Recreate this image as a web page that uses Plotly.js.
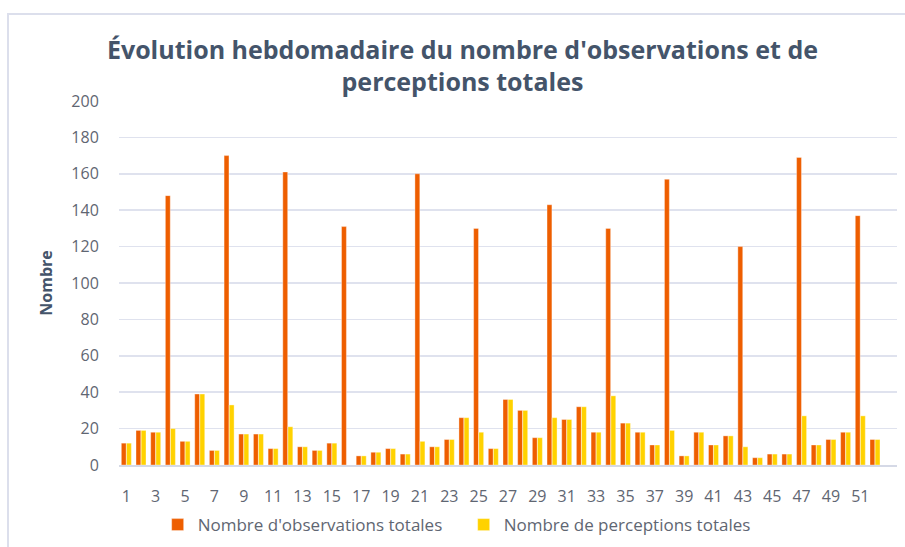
<!DOCTYPE html>
<html>
<head>
<meta charset="utf-8">
<script src="https://cdn.plot.ly/plotly-3.0.1.min.js"></script>
<style>
  html, body { margin: 0; padding: 0; background: #ffffff; overflow: hidden; }
  #frame { position: absolute; left: 7px; top: 13px; width: 1000px; height: 1000px;
           border-left: 2px solid #DCDFEC; border-top: 2px solid #DCDFEC; z-index: 0; }
  #chart { position: absolute; left: 0; top: 0; width: 905px; height: 547px; z-index: 1; }
</style>
</head>
<body>
<div id="frame"></div>
<div id="chart"></div>
<script>
const weeks = Array.from({length: 52}, (_, i) => i + 1);
const observations = [12,19,18,148,13,39,8,170,17,17,9,161,10,8,12,131,5,7,9,6,160,10,14,26,130,9,36,30,15,143,25,32,18,130,23,18,11,157,5,18,11,16,120,4,6,6,169,11,14,18,137,14];
const perceptions = [12,19,18,20,13,39,8,33,17,17,9,21,10,8,12,0,5,7,9,6,13,10,14,26,18,9,36,30,15,26,25,32,18,38,23,18,11,19,5,18,11,16,10,4,6,6,27,11,14,18,27,14];
const tickWeeks = [1,3,5,7,9,11,13,15,17,19,21,23,25,27,29,31,33,35,37,39,41,43,45,47,49,51];
const yTicks = [0,20,40,60,80,100,120,140,160,180,200];

const traces = [
  {type: 'bar', name: "Nombre d'observations totales", x: weeks, y: observations,
   marker: {color: '#EE5E00', line: {color: 'rgba(255,255,255,0.6)', width: 0.6}}},
  {type: 'bar', name: 'Nombre de perceptions totales', x: weeks, y: perceptions,
   marker: {color: '#FFD200', line: {color: 'rgba(255,255,255,0.6)', width: 0.6}}}
];

const layout = {
  width: 905, height: 547,
  paper_bgcolor: 'rgba(0,0,0,0)', plot_bgcolor: 'rgba(0,0,0,0)',
  margin: {l: 119, r: 8, t: 101, b: 82, autoexpand: false},
  font: {family: 'Open Sans, sans-serif', color: '#5F6672', size: 16},
  title: {
    text: "Évolution hebdomadaire du nombre d'observations et de<br>perceptions totales",
    font: {family: 'Open Sans, sans-serif', size: 25, weight: 'bold', color: '#44546A'},
    x: 0.511, xanchor: 'center', xref: 'container',
    y: 0.893, yanchor: 'top', yref: 'container'
  },
  barmode: 'group', bargap: 0.3, bargroupgap: 0.05,
  xaxis: {
    range: [0.5, 53.5], tickmode: 'array', tickvals: tickWeeks, ticktext: tickWeeks.map(String),
    showgrid: false, zeroline: false, showline: true, linecolor: '#D5D9E6', linewidth: 1.5,
    ticks: 'outside', ticklen: 16, tickcolor: 'rgba(0,0,0,0)',
    tickfont: {size: 16, color: '#5F6672'}, fixedrange: true
  },
  yaxis: {
    range: [0, 200], tickmode: 'array', tickvals: yTicks,
    showgrid: true, gridcolor: '#DFE2EE', gridwidth: 1.5, zeroline: false,
    ticks: 'outside', ticklen: 16, tickcolor: 'rgba(0,0,0,0)',
    tickfont: {size: 16, color: '#5F6672'},
    title: {text: 'Nombre', font: {size: 16, weight: 'bold', color: '#44546A'}, standoff: 14},
    fixedrange: true
  },
  legend: {
    orientation: 'h', x: 0.443, xanchor: 'center', y: -0.165, yanchor: 'middle',
    font: {size: 17, color: '#5F6672'}, traceorder: 'normal', itemwidth: 30,
    entrywidth: 261, entrywidthmode: 'pixels'
  },
  showlegend: true
};

Plotly.newPlot('chart', traces, layout, {displayModeBar: false, staticPlot: true});
</script>
</body>
</html>
